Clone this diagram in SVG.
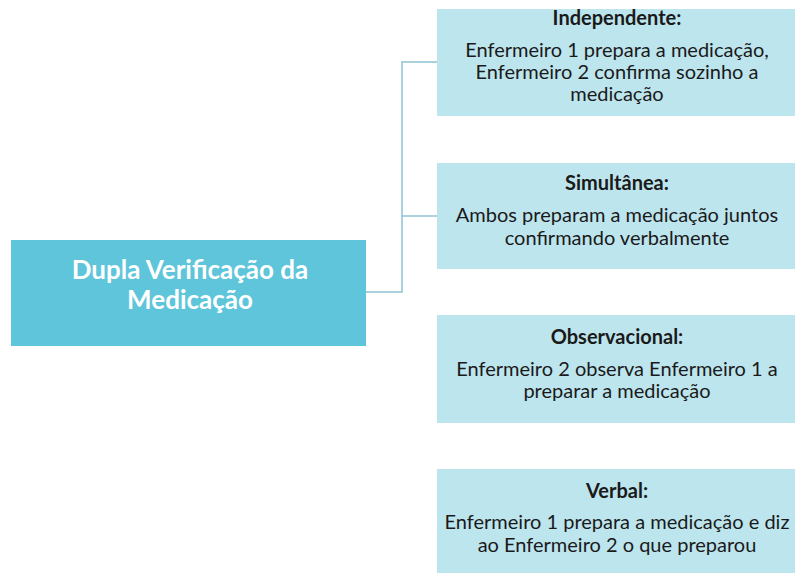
<svg xmlns="http://www.w3.org/2000/svg" width="795" height="573" viewBox="0 0 795 573">
<style>
.main{fill:#5ec5da}
.box{fill:#bde5ee}
.conn{fill:none;stroke:#8fc3d2;stroke-width:1.5}
text{font-family:Lato,"Open Sans","Liberation Sans",sans-serif;text-anchor:middle;fill:#1a1a1a}
.h{font-size:20px;font-weight:bold}
.b{font-size:20px}
.m{font-size:26px;font-weight:bold;fill:#ffffff}
</style>
<rect width="795" height="573" fill="#ffffff"/>
<g id="connectors">
<path class="conn" d="M366,292 H402 V62 H437"/>
<path class="conn" d="M402,216 H437"/>
</g>
<g id="main">
<rect class="main" x="11" y="240" width="355" height="106"/>
<text class="m" x="190" y="279">Dupla Verificação da</text>
<text class="m" x="190" y="309">Medicação</text>
</g>
<g id="independente">
<rect class="box" x="437" y="9" width="358" height="107"/>
<text class="h" x="617" y="25">Independente:</text>
<text class="b" x="617" y="57">Enfermeiro 1 prepara a medicação,</text>
<text class="b" x="617" y="79">Enfermeiro 2 confirma sozinho a</text>
<text class="b" x="617" y="101">medicação</text>
</g>
<g id="simultanea">
<rect class="box" x="437" y="163" width="358" height="106"/>
<text class="h" x="617" y="190">Simultânea:</text>
<text class="b" x="617" y="222">Ambos preparam a medicação juntos</text>
<text class="b" x="617" y="245">confirmando verbalmente</text>
</g>
<g id="observacional">
<rect class="box" x="437" y="315" width="358" height="108"/>
<text class="h" x="617" y="344">Observacional:</text>
<text class="b" x="617" y="376">Enfermeiro 2 observa Enfermeiro 1 a</text>
<text class="b" x="617" y="398">preparar a medicação</text>
</g>
<g id="verbal">
<rect class="box" x="437" y="469" width="358" height="104"/>
<text class="h" x="617" y="498">Verbal:</text>
<text class="b" x="617" y="529">Enfermeiro 1 prepara a medicação e diz</text>
<text class="b" x="617" y="552">ao Enfermeiro 2 o que preparou</text>
</g>
</svg>
